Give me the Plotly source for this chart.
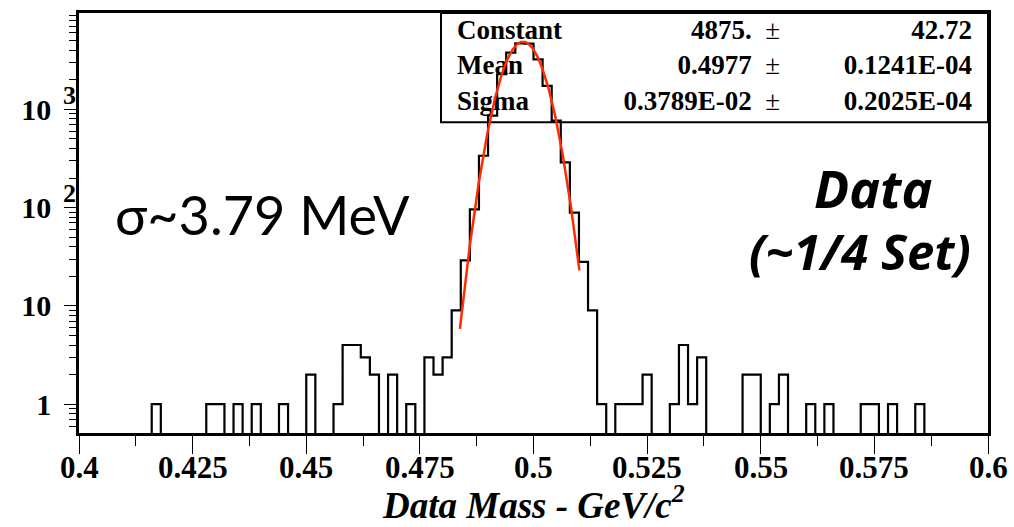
import numpy as np
import plotly.graph_objects as go

# ---- histogram: 100 bins of 2 MeV between 0.4 and 0.6 GeV/c^2 ----
bin_edges = [round(0.4 + 0.002 * i, 3) for i in range(101)]
counts = [
    0, 0, 0, 0, 0, 0, 0, 0, 1, 0,          # 0.400 - 0.420
    0, 0, 0, 0, 1, 1, 0, 1, 0, 1,          # 0.420 - 0.440
    0, 0, 1, 0, 0, 2, 0, 0, 1, 4,          # 0.440 - 0.460
    4, 3, 2, 0, 2, 0, 1, 0, 3, 2,          # 0.460 - 0.480
    3, 9, 29, 96, 337, 863, 2275, 3770, 4690, 4670,   # 0.480 - 0.500
    3220, 1735, 767, 288, 89, 28, 9, 1, 0, 1,          # 0.500 - 0.520
    1, 1, 2, 0, 0, 1, 4, 1, 3, 0,          # 0.520 - 0.540
    0, 0, 0, 2, 2, 0, 1, 2, 0, 0,          # 0.540 - 0.560
    1, 0, 1, 0, 0, 0, 1, 1, 0, 1,          # 0.560 - 0.580
    0, 0, 1, 0, 0, 0, 0, 0, 0, 0,          # 0.580 - 0.600
]

# ---- gaussian fit results ----
fit_constant = 4875.0
fit_mean = 0.4977
fit_sigma = 0.3789e-02
fit_range = (0.4838, 0.5101)

stat_names = ["Constant", "Mean", "Sigma"]
stat_values = ["4875.", "0.4977", "0.3789E-02"]
stat_errors = ["42.72", "0.1241E-04", "0.2025E-04"]

x_tick_vals = [0.4, 0.425, 0.45, 0.475, 0.5, 0.525, 0.55, 0.575, 0.6]
x_tick_text = ["0.4", "0.425", "0.45", "0.475", "0.5", "0.525", "0.55", "0.575", "0.6"]
y_tick_vals = [1, 10, 100, 1000]
y_tick_text = ["1", "10", "10", "10"]
y_tick_exponents = {100: "2", 1000: "3"}

# ---- page geometry ----
W, H = 1014, 527
M_L, M_R, M_T, M_B = 79, 26, 10, 94
X_RANGE = [0.4, 0.6]
LOG_RANGE = [-0.293, 3.98]

plot_w = W - M_L - M_R
plot_h = H - M_T - M_B
BOTTOM_PX = H - M_B


def px_to_x(px):
    return X_RANGE[0] + (px - M_L) / plot_w * (X_RANGE[1] - X_RANGE[0])


def py_to_y(py):
    frac = (BOTTOM_PX - py) / plot_h
    return 10 ** (LOG_RANGE[0] + frac * (LOG_RANGE[1] - LOG_RANGE[0]))


def py_to_paper(py):
    return (BOTTOM_PX - py) / plot_h


SERIF = "Liberation Serif"
SANS = "Lato"
SANS_BOLD = "Open Sans"

fig = go.Figure()

# statistics box text (drawn first so the histogram sits on top of it)
row_py = [29, 65, 101]
stat_font = dict(family=SERIF, size=27, color="black")
fig.add_trace(go.Scatter(
    x=[px_to_x(457)] * 3, y=[py_to_y(p) for p in row_py],
    text=[f"<b>{n}</b>" for n in stat_names],
    mode="text", textposition="middle right", textfont=stat_font,
    hoverinfo="skip", showlegend=False, cliponaxis=False))
fig.add_trace(go.Scatter(
    x=[px_to_x(780)] * 3, y=[py_to_y(p) for p in row_py],
    text=[f"<b>{v}</b>  \u00b1" for v in stat_values],
    mode="text", textposition="middle left", textfont=stat_font,
    hoverinfo="skip", showlegend=False, cliponaxis=False))
fig.add_trace(go.Scatter(
    x=[px_to_x(972)] * 3, y=[py_to_y(p) for p in row_py],
    text=[f"<b>{e}</b>" for e in stat_errors],
    mode="text", textposition="middle left", textfont=stat_font,
    hoverinfo="skip", showlegend=False, cliponaxis=False))

# histogram outline; empty bins drop below the frame and get clipped
floor = 0.2
step_y = [c if c > 0 else floor for c in counts]
step_y.append(step_y[-1])
fig.add_trace(go.Scatter(
    x=bin_edges, y=step_y, mode="lines", line_shape="hv",
    line=dict(color="black", width=2.2),
    hoverinfo="skip", showlegend=False))

# gaussian fit curve
xf = np.linspace(fit_range[0], fit_range[1], 300)
yf = fit_constant * np.exp(-0.5 * ((xf - fit_mean) / fit_sigma) ** 2)
fig.add_trace(go.Scatter(
    x=xf, y=yf, mode="lines",
    line=dict(color="#ff2a00", width=2.5),
    hoverinfo="skip", showlegend=False))

# statistics box frame
fig.add_shape(type="rect", xref="paper", yref="paper",
              x0=(441 - M_L) / plot_w, x1=1, y0=py_to_paper(120), y1=1,
              line=dict(color="black", width=2), fillcolor="white",
              layer="below")

annotations = []
# x tick labels
for val, txt in zip(x_tick_vals, x_tick_text):
    annotations.append(dict(
        x=val, xref="x", y=py_to_paper(468), yref="paper",
        text=txt, showarrow=False, xanchor="center", yanchor="middle",
        font=dict(family=SERIF, size=31, color="black", weight="bold")))

# superscript exponents on the y tick labels
for val, exp in y_tick_exponents.items():
    annotations.append(dict(
        x=(69 - M_L) / plot_w, xref="paper", y=np.log10(val), yref="y",
        text=exp, showarrow=False, xanchor="center", yanchor="middle",
        yshift=14, font=dict(family=SERIF, size=26, color="black", weight="bold")))

# in-plot labels
annotations.append(dict(
    x=(262 - M_L) / plot_w, xref="paper", y=py_to_paper(213), yref="paper",
    text="\u03c3~3.79 MeV", showarrow=False, xanchor="center", yanchor="middle",
    font=dict(family=SANS, size=54, color="black")))
annotations.append(dict(
    x=(873 - M_L) / plot_w, xref="paper", y=py_to_paper(186), yref="paper",
    text="Data", showarrow=False, xanchor="center", yanchor="middle",
    font=dict(family=SANS_BOLD, size=52, color="black", weight="bold", style="italic")))
annotations.append(dict(
    x=(860 - M_L) / plot_w, xref="paper", y=py_to_paper(250), yref="paper",
    text="(~1/4 Set)", showarrow=False, xanchor="center", yanchor="middle",
    font=dict(family=SANS_BOLD, size=49, color="black", weight="bold", style="italic")))

# x-axis title
annotations.append(dict(
    x=0.5, xref="paper", y=py_to_paper(503), yref="paper",
    text="Data Mass - GeV/c<sup>2</sup>", showarrow=False,
    xanchor="center", yanchor="middle",
    font=dict(family=SERIF, size=37, color="black", weight="bold", style="italic")))

minor_y = [v * 10 ** d for d in range(-1, 4) for v in range(2, 10)
           if 10 ** LOG_RANGE[0] <= v * 10 ** d <= 10 ** LOG_RANGE[1]]

fig.update_layout(
    width=W, height=H,
    margin=dict(l=M_L, r=M_R, t=M_T, b=M_B, pad=0),
    paper_bgcolor="white", plot_bgcolor="white",
    showlegend=False,
    annotations=annotations,
    xaxis=dict(
        range=X_RANGE, showgrid=False, zeroline=False,
        showline=True, mirror=True, linecolor="black", linewidth=2.5,
        tickmode="array", tickvals=x_tick_vals, showticklabels=False,
        ticks="outside", ticklen=18, tickwidth=1.2, tickcolor="black",
        minor=dict(dtick=0.0125, tick0=0.4, ticks="outside", ticklen=10,
                   tickwidth=1.2, tickcolor="black", showgrid=False),
    ),
    yaxis=dict(
        type="log", range=LOG_RANGE, showgrid=False, zeroline=False,
        showline=True, mirror=True, linecolor="black", linewidth=2.5,
        tickmode="array", tickvals=y_tick_vals, ticktext=y_tick_text,
        ticks="outside", ticklen=12, tickwidth=1.2, tickcolor="black",
        ticklabelstandoff=7,
        tickfont=dict(family=SERIF, size=30, color="black", weight="bold"),
        minor=dict(tickmode="array", tickvals=minor_y, ticks="outside",
                   ticklen=7, tickwidth=1.2, tickcolor="black", showgrid=False),
    ),
)

fig.write_html("out.html")
